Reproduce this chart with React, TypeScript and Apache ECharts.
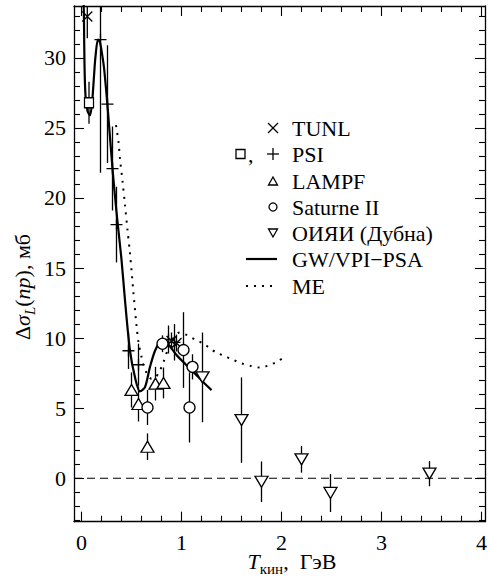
import React, { useEffect, useRef } from 'react';
import * as echarts from 'echarts';

// Axis ticks
const xMajor = [0, 1, 2, 3, 4];
const yMajor = [0, 5, 10, 15, 20, 25, 30];
const xMinor = [0.2, 0.4, 0.6, 0.8, 1.2, 1.4, 1.6, 1.8, 2.2, 2.4, 2.6, 2.8, 3.2, 3.4, 3.6, 3.8];
const yMinor = [-3, -2, -1, 1, 2, 3, 4, 6, 7, 8, 9, 11, 12, 13, 14, 16, 17, 18, 19, 21, 22, 23, 24, 26, 27, 28, 29, 31, 32, 33];

// TUNL (x)
const tunlX = [0.058, 0.9, 0.95];
const tunlY = [32.95, 9.8, 9.65];
const tunlErr = [1.55, 0.6, 0.6];

// PSI squares
const psiSquareX = [0.075];
const psiSquareY = [26.8];
const psiSquareErr = [1.5];

// PSI plus
const psiPlusX = [0.19, 0.26, 0.31, 0.35, 0.47, 0.57, 0.87, 0.93];
const psiPlusY = [31.3, 26.7, 22.1, 18.1, 9.1, 8.1, 9.9, 9.7];
const psiPlusErr = [9.5, 4.2, 3.0, 2.7, 1.3, 1.5, 1.0, 1.3];

// LAMPF (triangle up)
const lampfX = [0.5, 0.57, 0.66, 0.74, 0.82];
const lampfY = [6.3, 5.3, 2.25, 6.75, 6.8];
const lampfErr = [1.25, 1.25, 0.95, 1.2, 1.1];

// Saturne II (circle)
const saturneX = [0.66, 0.81, 1.02, 1.08, 1.11];
const saturneY = [5.05, 9.6, 9.15, 5.05, 7.95];
const saturneErr = [1.25, 0.6, 2.7, 2.5, 0.9];

// JINR Dubna (triangle down)
const jinrX = [1.21, 1.6, 1.8, 2.2, 2.49, 3.48];
const jinrY = [7.2, 4.15, -0.25, 1.35, -1.05, 0.33];
const jinrErr = [3.2, 3.05, 1.45, 0.95, 1.35, 0.9];

// GW/VPI-PSA curve
const gwX = [0.02, 0.025, 0.03, 0.04, 0.06, 0.085, 0.108, 0.125, 0.14, 0.165, 0.185, 0.205, 0.225, 0.25, 0.27, 0.31, 0.35, 0.4, 0.435, 0.485, 0.535, 0.585, 0.635, 0.685, 0.735, 0.785, 0.82, 0.885, 0.95, 1.05, 1.15, 1.22, 1.3];
const gwY = [34.5, 32.5, 29.5, 27.3, 26.2, 25.9, 27.0, 28.7, 30.1, 31.3, 31.1, 30.3, 29.3, 27.4, 25.7, 22.1, 19.0, 15.6, 12.7, 9.1, 7.2, 6.2, 6.5, 7.95, 9.1, 9.74, 9.86, 9.4, 8.8, 8.07, 7.36, 6.85, 6.29];

// ME curve
const meX = [0.345, 0.37, 0.385, 0.41, 0.435, 0.46, 0.485, 0.52, 0.55, 0.57, 0.6, 0.62, 0.66, 0.7, 0.74, 0.785, 0.82, 0.87, 0.93, 0.98, 1.06, 1.135, 1.22, 1.28, 1.34, 1.42, 1.5, 1.6, 1.7, 1.785, 1.87, 1.95, 2.02];
const meY = [25.2, 24.0, 22.8, 21.2, 19.5, 17.7, 16.05, 13.2, 10.9, 9.7, 8.67, 8.07, 7.4, 7.1, 7.2, 7.7, 8.3, 9.3, 10.1, 10.4, 10.2, 9.9, 9.6, 9.3, 9.0, 8.75, 8.5, 8.2, 8.0, 7.9, 8.05, 8.3, 8.6];

const legendLabels = ['TUNL', 'PSI', 'LAMPF', 'Saturne II', 'ОИЯИ (Дубна)', 'GW/VPI−PSA', 'ME'];

const XMIN = -0.075;
const XMAX = 4.035;
const YMIN = -3.1;
const YMAX = 33.7;

const serif = 'Liberation Serif';

function zip(xs: number[], ys: number[]) {
  return xs.map((x, i) => [x, ys[i]]);
}
function errRows(xs: number[], ys: number[], es: number[]) {
  return xs.map((x, i) => [x, ys[i] - es[i], ys[i] + es[i]]);
}

function xAxisDef(position: string, ticks: number[], len: number, showLine: boolean, labels?: number[]) {
  return {
    type: 'value',
    min: XMIN,
    max: XMAX,
    position,
    axisLine: { show: showLine, onZero: false, lineStyle: { color: '#000', width: 1.3 } },
    axisTick: { show: true, inside: true, length: len, customValues: ticks, lineStyle: { color: '#000', width: 1.1 } },
    axisLabel: labels
      ? { show: true, customValues: labels, color: '#000', fontSize: 22, fontFamily: serif, margin: 10 }
      : { show: false },
    splitLine: { show: false },
  };
}
function yAxisDef(position: string, ticks: number[], len: number, showLine: boolean, labels?: number[]) {
  return {
    type: 'value',
    min: YMIN,
    max: YMAX,
    position,
    axisLine: { show: showLine, onZero: false, lineStyle: { color: '#000', width: 1.3 } },
    axisTick: { show: true, inside: true, length: len, customValues: ticks, lineStyle: { color: '#000', width: 1.1 } },
    axisLabel: labels
      ? { show: true, customValues: labels, color: '#000', fontSize: 22, fontFamily: serif, margin: 8 }
      : { show: false },
    splitLine: { show: false },
  };
}

export default function App() {
  const ref = useRef<HTMLDivElement>(null);
  useEffect(() => {
    const chart = echarts.init(ref.current!, null, { renderer: 'svg' });

    const errData = [
      ...errRows(tunlX, tunlY, tunlErr),
      ...errRows(psiSquareX, psiSquareY, psiSquareErr),
      ...errRows(psiPlusX, psiPlusY, psiPlusErr),
      ...errRows(lampfX, lampfY, lampfErr),
      ...errRows(saturneX, saturneY, saturneErr),
      ...errRows(jinrX, jinrY, jinrErr),
    ];

    const hollow = { color: '#fff', borderColor: '#000', borderWidth: 1.3, opacity: 1 };
    const stroked = { color: 'none', borderColor: '#000', borderWidth: 1.3, opacity: 1 };

    const lx = 273;
    const tx = 292;
    const ly = [128, 154, 181, 207, 233, 259, 286];
    const txtStyle = (t: string, y: number) => ({
      type: 'text',
      x: tx,
      y,
      style: {
        text: t,
        fontSize: 22,
        fontFamily: serif,
        fill: '#000',
        align: 'left',
        verticalAlign: 'middle',
        textAlign: 'left',
        textVerticalAlign: 'middle',
      },
    });
    const stroke = { stroke: '#000', lineWidth: 1.3, fill: 'none' };

    const graphic: any[] = [
      // legend markers
      { type: 'line', shape: { x1: lx - 5, y1: ly[0] - 5, x2: lx + 5, y2: ly[0] + 5 }, style: stroke },
      { type: 'line', shape: { x1: lx - 5, y1: ly[0] + 5, x2: lx + 5, y2: ly[0] - 5 }, style: stroke },
      { type: 'rect', shape: { x: 236, y: ly[1] - 4.5, width: 9, height: 9 }, style: stroke },
      {
        type: 'text', x: 248, y: ly[1],
        style: { text: ',', fontSize: 22, fontFamily: serif, fill: '#000', verticalAlign: 'middle', textVerticalAlign: 'middle' },
      },
      { type: 'line', shape: { x1: lx - 6, y1: ly[1], x2: lx + 6, y2: ly[1] }, style: stroke },
      { type: 'line', shape: { x1: lx, y1: ly[1] - 6, x2: lx, y2: ly[1] + 6 }, style: stroke },
      { type: 'polygon', shape: { points: [[lx - 4.5, ly[2] + 4], [lx + 4.5, ly[2] + 4], [lx, ly[2] - 4]] }, style: stroke },
      { type: 'circle', shape: { cx: lx, cy: ly[3], r: 4 }, style: stroke },
      { type: 'polygon', shape: { points: [[lx - 4.5, ly[4] - 4], [lx + 4.5, ly[4] - 4], [lx, ly[4] + 4]] }, style: stroke },
      { type: 'line', shape: { x1: 246, y1: ly[5], x2: 277, y2: ly[5] }, style: { stroke: '#000', lineWidth: 2.2 } },
      { type: 'line', shape: { x1: 246, y1: ly[6], x2: 276, y2: ly[6] }, style: { stroke: '#000', lineWidth: 2, lineDash: [2, 6] } },
      ...legendLabels.map((t, i) => txtStyle(t, ly[i])),
      // y-axis name
      {
        type: 'text',
        x: 22,
        y: 287,
        rotation: Math.PI / 2,
        style: {
          text: '{n|Δ}{i|σ}{s|L}{n|(}{i|np}{n|), мб}',
          align: 'center',
          verticalAlign: 'middle',
          textAlign: 'center',
          textVerticalAlign: 'middle',
          fill: '#000',
          rich: {
            n: { fontSize: 22, fontFamily: serif, lineHeight: 30, fill: '#000', color: '#000' },
            i: { fontSize: 22, fontFamily: serif, fontStyle: 'italic', lineHeight: 30, fill: '#000', color: '#000' },
            s: { fontSize: 15, fontFamily: serif, fontStyle: 'italic', lineHeight: 18, verticalAlign: 'bottom', fill: '#000', color: '#000' },
          },
        },
      },
      // x-axis name
      {
        type: 'text',
        x: 292,
        y: 561,
        style: {
          text: '{i|T}{s|кин}{n|,  ГэВ}',
          align: 'center',
          verticalAlign: 'middle',
          textAlign: 'center',
          textVerticalAlign: 'middle',
          fill: '#000',
          rich: {
            n: { fontSize: 22, fontFamily: serif, lineHeight: 30, fill: '#000', color: '#000' },
            i: { fontSize: 22, fontFamily: serif, fontStyle: 'italic', lineHeight: 30, fill: '#000', color: '#000' },
            s: { fontSize: 15, fontFamily: serif, lineHeight: 18, verticalAlign: 'bottom', fill: '#000', color: '#000' },
          },
        },
      },
    ];

    const option: any = {
      animation: false,
      backgroundColor: '#fff',
      textStyle: { fontFamily: serif },
      grid: { left: 74, top: 6, width: 411, height: 515.7 },
      xAxis: [
        xAxisDef('bottom', xMajor, 10, true, xMajor),
        xAxisDef('bottom', xMinor, 6, false),
        xAxisDef('top', xMajor, 10, true),
        xAxisDef('top', xMinor, 6, false),
      ],
      yAxis: [
        yAxisDef('left', yMajor, 10, true, yMajor),
        yAxisDef('left', yMinor, 6, false),
        yAxisDef('right', yMajor, 10, true),
        yAxisDef('right', yMinor, 6, false),
      ],
      graphic,
      series: [
        {
          type: 'line',
          data: [[XMIN, 0], [XMAX, 0]],
          symbol: 'none',
          silent: true,
          lineStyle: { color: '#000', width: 1.2, type: [8, 5] },
          z: 1,
        },
        {
          type: 'custom',
          data: errData,
          encode: { x: 0, y: [1, 2] },
          clip: true,
          z: 2,
          renderItem: (params: any, api: any) => {
            const a = api.coord([api.value(0), api.value(1)]);
            const b = api.coord([api.value(0), api.value(2)]);
            return {
              type: 'line',
              shape: { x1: a[0], y1: a[1], x2: b[0], y2: b[1] },
              style: { stroke: '#000', lineWidth: 1.3 },
            };
          },
        },
        {
          type: 'line',
          data: zip(gwX, gwY),
          symbol: 'none',
          smooth: 0.3,
          lineStyle: { color: '#000', width: 2.2 },
          z: 3,
        },
        {
          type: 'line',
          data: zip(meX, meY),
          symbol: 'none',
          smooth: 0.3,
          lineStyle: { color: '#000', width: 2, type: [2, 6] },
          z: 3,
        },
        {
          type: 'scatter',
          data: zip(tunlX, tunlY),
          symbol: 'path://M0,0L10,10M10,0L0,10',
          symbolSize: 10,
          itemStyle: stroked,
          z: 4,
        },
        {
          type: 'scatter',
          data: zip(psiSquareX, psiSquareY),
          symbol: 'rect',
          symbolSize: [9, 10],
          itemStyle: hollow,
          z: 4,
        },
        {
          type: 'scatter',
          data: zip(psiPlusX, psiPlusY),
          symbol: 'path://M6,0L6,12M0,6L12,6',
          symbolSize: 12,
          itemStyle: stroked,
          z: 4,
        },
        {
          type: 'scatter',
          data: zip(lampfX, lampfY),
          symbol: 'triangle',
          symbolSize: [13, 11],
          itemStyle: hollow,
          z: 4,
        },
        {
          type: 'scatter',
          data: zip(saturneX, saturneY),
          symbol: 'circle',
          symbolSize: 11,
          itemStyle: hollow,
          z: 4,
        },
        {
          type: 'scatter',
          data: zip(jinrX, jinrY),
          symbol: 'triangle',
          symbolRotate: 180,
          symbolSize: [13, 11],
          itemStyle: hollow,
          z: 4,
        },
      ],
    };
    chart.setOption(option);
    return () => chart.dispose();
  }, []);
  return <div ref={ref} style={{ position: 'absolute', left: 0, top: 0, width: 490, height: 583 }} />;
}
